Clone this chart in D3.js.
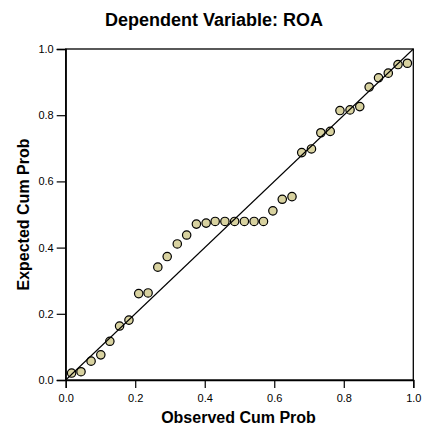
<!DOCTYPE html>
<html><head><meta charset="utf-8">
<script src="https://cdn.jsdelivr.net/npm/d3@7"></script>
<style>body{margin:0;background:#fff}</style>
</head><body>
<svg id="c" width="424" height="427"></svg>
<script>
const title = "Dependent Variable: ROA";
const xLabel = "Observed Cum Prob";
const yLabel = "Expected Cum Prob";
const tickValues = [0, 0.2, 0.4, 0.6, 0.8, 1.0];
const observed = [0.017,0.044,0.073,0.101,0.127,0.155,0.182,0.210,0.237,0.265,0.292,0.321,0.348,0.376,0.404,0.430,0.458,0.486,0.514,0.542,0.569,0.596,0.623,0.651,0.679,0.707,0.734,0.761,0.789,0.818,0.846,0.873,0.900,0.928,0.956,0.983];
const expected = [0.021,0.025,0.057,0.076,0.117,0.163,0.181,0.261,0.263,0.341,0.373,0.411,0.438,0.471,0.474,0.479,0.479,0.479,0.479,0.479,0.479,0.511,0.546,0.554,0.687,0.698,0.747,0.751,0.814,0.816,0.826,0.885,0.913,0.927,0.953,0.957];

const svg = d3.select("#c");
const L = 65.7, R = 413.3, T = 49, B = 380;
const x = d3.scaleLinear().domain([0,1]).range([L,R]);
const y = d3.scaleLinear().domain([0,1]).range([B,T]);
const font = "Liberation Sans, Arial, Helvetica, sans-serif";

svg.append("rect").attr("x",L).attr("y",T).attr("width",R-L).attr("height",B-T)
  .attr("fill","none").attr("stroke","#000").attr("stroke-width",1.3);

const fmt = d3.format(".1f");
const xa = svg.append("g").attr("transform",`translate(0,${B})`)
  .call(d3.axisBottom(x).tickValues(tickValues).tickFormat(fmt).tickSize(8).tickPadding(6));
const ya = svg.append("g").attr("transform",`translate(${L},0)`)
  .call(d3.axisLeft(y).tickValues(tickValues).tickFormat(fmt).tickSize(9).tickPadding(3));
[xa,ya].forEach(a=>{
  a.select(".domain").attr("stroke","#000").attr("stroke-width",1.3);
  a.selectAll(".tick line").attr("stroke","#000").attr("stroke-width",1.2);
  a.selectAll(".tick text").attr("font-family",font).attr("font-size",11).attr("fill","#000");
});

const pts = observed.map((o,i)=>({o, e: expected[i]}));
svg.append("g").selectAll("circle").data(pts).join("circle")
  .attr("cx",d=>x(d.o)).attr("cy",d=>y(d.e)).attr("r",4.2)
  .attr("fill","#d8d2a0").attr("stroke","#000").attr("stroke-width",1.2);
svg.append("line").attr("x1",x(0)).attr("y1",y(0)).attr("x2",x(1)).attr("y2",y(1))
  .attr("stroke","#000").attr("stroke-width",1.1);

svg.append("text").attr("x",214).attr("y",26).attr("text-anchor","middle")
  .attr("font-family",font).attr("font-weight","bold").attr("font-size",18).text(title);
svg.append("text").attr("x",x(0.5)-1).attr("y",423).attr("text-anchor","middle")
  .attr("font-family",font).attr("font-weight","bold").attr("font-size",16).text(xLabel);
svg.append("text").attr("transform",`translate(29,${(T+B)/2}) rotate(-90)`).attr("text-anchor","middle")
  .attr("font-family",font).attr("font-weight","bold").attr("font-size",16).text(yLabel);
</script>
</body></html>
